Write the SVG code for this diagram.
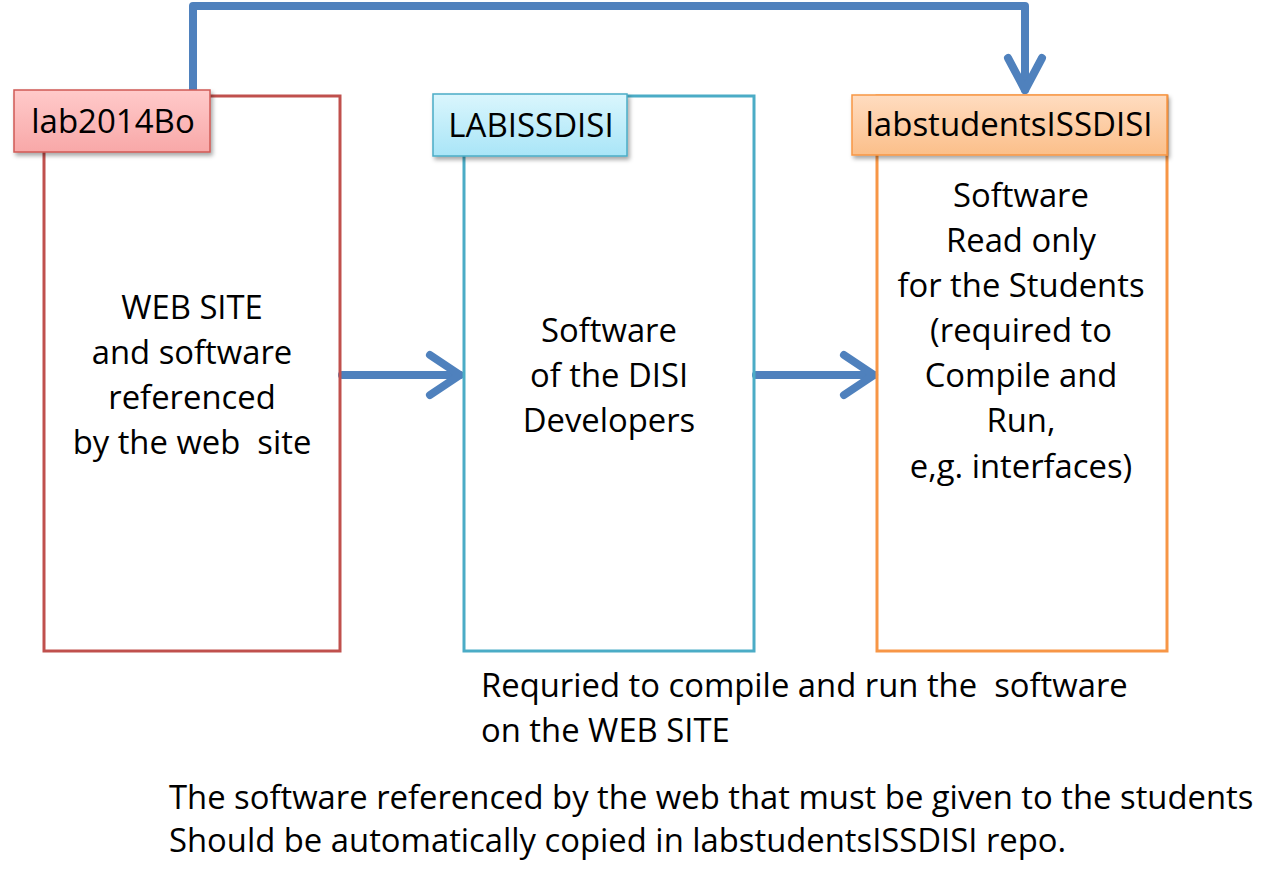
<svg xmlns="http://www.w3.org/2000/svg" width="1280" height="885" viewBox="0 0 1280 885">
<style>
text{font-family:"Open Sans","Liberation Sans",sans-serif;font-size:32.8px;fill:#000;font-variant-ligatures:none}
.c{text-anchor:middle}
.lab{font-size:33px}
.conn{fill:none;stroke:#4F81BD;stroke-width:8;stroke-linejoin:round;stroke-linecap:round}
</style>
<defs>
<linearGradient id="gr" x1="0" y1="0" x2="0" y2="1"><stop offset="0" stop-color="#FFCACA"/><stop offset="1" stop-color="#F8A8A8"/></linearGradient>
<linearGradient id="gc" x1="0" y1="0" x2="0" y2="1"><stop offset="0" stop-color="#DAF6FD"/><stop offset="1" stop-color="#A9E5F7"/></linearGradient>
<linearGradient id="go" x1="0" y1="0" x2="0" y2="1"><stop offset="0" stop-color="#FFDCC0"/><stop offset="1" stop-color="#FBBF8A"/></linearGradient>
<filter id="sh" x="-10%" y="-10%" width="130%" height="140%"><feDropShadow dx="2" dy="3" stdDeviation="2" flood-color="#000" flood-opacity="0.35"/></filter>
</defs>
<g id="connectors">
<path class="conn" d="M193 94 V6 H1025 V90"/>
<path class="conn" d="M1008 58 L1025 90 L1042 58"/>
<path class="conn" d="M342 375 H460"/>
<path class="conn" d="M430 355 L460 375 L430 395"/>
<path class="conn" d="M756 375 H874"/>
<path class="conn" d="M844 355 L874 375 L844 395"/>
</g>
<g id="lab2014Bo">
<rect x="44" y="96" width="296" height="555" fill="none" stroke="#C0504D" stroke-width="3"/>
<rect x="14" y="90" width="196" height="62" fill="url(#gr)" stroke="#D05A56" stroke-width="1.5" filter="url(#sh)"/>
<text x="113" y="133" class="c lab">lab2014Bo</text>
<text x="192" y="319" class="c">WEB SITE</text>
<text x="192" y="364" class="c">and software</text>
<text x="192" y="409" class="c">referenced</text>
<text x="192" y="454" class="c" xml:space="preserve">by the web  site</text>
</g>
<g id="LABISSDISI">
<rect x="464" y="96" width="290" height="555" fill="none" stroke="#4BACC6" stroke-width="3"/>
<rect x="433" y="94" width="194" height="62" fill="url(#gc)" stroke="#4BACC6" stroke-width="1.5" filter="url(#sh)"/>
<text x="531" y="137" class="c lab">LABISSDISI</text>
<text x="609" y="342" class="c">Software</text>
<text x="609" y="387" class="c">of the DISI</text>
<text x="609" y="432" class="c">Developers</text>
</g>
<g id="labstudentsISSDISI">
<rect x="877" y="96" width="290" height="555" fill="none" stroke="#F79646" stroke-width="3"/>
<rect x="852" y="95" width="315" height="60" fill="url(#go)" stroke="#F79646" stroke-width="1.5" filter="url(#sh)"/>
<text x="1009" y="136" class="c lab">labstudentsISSDISI</text>
<text x="1021" y="207" class="c">Software</text>
<text x="1021" y="252" class="c">Read only</text>
<text x="1021" y="297" class="c">for the Students</text>
<text x="1021" y="342" class="c">(required to</text>
<text x="1021" y="387" class="c">Compile and</text>
<text x="1021" y="432" class="c">Run,</text>
<text x="1021" y="478" class="c">e,g. interfaces)</text>
</g>
<g id="notes">
<text x="481" y="697" xml:space="preserve">Requried to compile and run the  software</text>
<text x="481" y="742">on the WEB SITE</text>
<text x="169" y="809">The software referenced by the web that must be given to the students</text>
<text x="169" y="852">Should be automatically copied in labstudentsISSDISI repo.</text>
</g>
</svg>
